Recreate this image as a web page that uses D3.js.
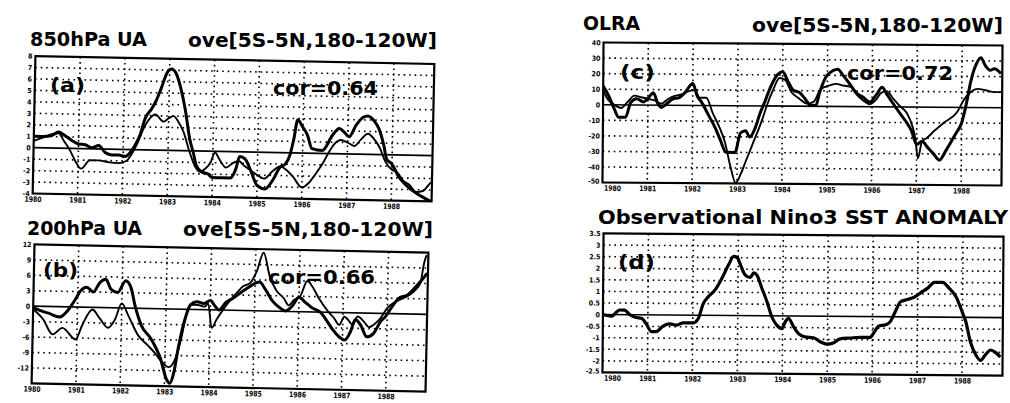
<!DOCTYPE html>
<html><head><meta charset="utf-8">
<script src="https://cdn.jsdelivr.net/npm/d3@7/dist/d3.min.js"></script>
<style>body{margin:0;background:#fff}svg{display:block}</style>
</head><body>
<svg id="c" width="1010" height="403"></svg>
<script>
// ---------- data ----------
const years = [1980,1981,1982,1983,1984,1985,1986,1987,1988];
const yearLabels = ["1980","1981","1982","1983","1984","1985","1986","1987","1988"];
const ticksA = [8,7,6,5,4,3,2,1,0,-1,-2,-3,-4];
const ticksB = [12,9,6,3,0,-3,-6,-9,-12];
const ticksC = [40,30,20,10,0,-10,-20,-30,-40,-50];
const ticksD = [3.5,3,2.5,2,1.5,1,0.5,0,-0.5,-1,-1.5,-2,-2.5];
const tickLabelsD = ["3.5","3","2.5","2","1.5","1","0.5","0","-0.5","-1","-1.5","-2","-2.5"];

// 850hPa UA (a): thick and thin series [year, value]
const a1 = [[1980.0,1.0],[1980.2,1.0],[1980.4,1.1],[1980.55,1.4],[1980.7,1.1],[1980.85,0.7],[1981.0,0.4],[1981.15,0.35],[1981.3,0.1],[1981.45,0.3],[1981.6,-0.3],[1981.75,-0.5],[1981.9,-0.5],[1982.05,-0.6],[1982.15,-0.3],[1982.25,0.3],[1982.37,1.3],[1982.48,2.8],[1982.6,3.5],[1982.7,4.2],[1982.82,5.4],[1982.95,6.8],[1983.04,7.1],[1983.15,6.7],[1983.26,5.4],[1983.37,3.5],[1983.48,1.0],[1983.56,-0.1],[1983.64,-1.3],[1983.75,-1.8],[1983.9,-2.0],[1984.0,-2.3],[1984.2,-2.3],[1984.4,-2.3],[1984.52,-1.5],[1984.6,-0.4],[1984.72,-0.6],[1984.85,-1.6],[1985.0,-2.9],[1985.18,-3.2],[1985.35,-2.4],[1985.5,-1.3],[1985.62,-1.0],[1985.72,-0.2],[1985.8,1.2],[1985.88,2.9],[1985.99,2.3],[1986.1,1.6],[1986.21,0.4],[1986.44,0.25],[1986.66,1.6],[1986.81,2.2],[1986.92,1.9],[1987.03,1.5],[1987.18,2.5],[1987.33,3.2],[1987.44,3.35],[1987.59,2.9],[1987.7,2.2],[1987.81,0.8],[1987.88,-0.4],[1988.0,-0.8],[1988.14,-1.8],[1988.29,-2.5],[1988.44,-3.0],[1988.59,-3.4],[1988.73,-3.7],[1988.88,-4.0]];
const a2 = [[1980.0,0.6],[1980.2,0.9],[1980.4,1.2],[1980.55,1.3],[1980.68,0.6],[1980.81,-0.15],[1980.95,-1.2],[1981.07,-1.75],[1981.26,-1.0],[1981.45,-1.0],[1981.7,-1.15],[1981.9,-1.2],[1982.07,-1.0],[1982.3,0.45],[1982.45,1.9],[1982.59,2.8],[1982.7,3.1],[1982.89,2.5],[1983.0,2.8],[1983.11,3.0],[1983.22,2.5],[1983.33,1.7],[1983.48,-0.1],[1983.6,-1.3],[1983.72,-1.8],[1983.85,-1.5],[1983.95,-1.0],[1984.05,-0.1],[1984.15,-0.7],[1984.3,-1.4],[1984.45,-1.0],[1984.58,-0.8],[1984.7,-1.2],[1984.85,-1.6],[1985.0,-2.0],[1985.15,-2.3],[1985.35,-1.6],[1985.5,-1.2],[1985.65,-1.5],[1985.8,-2.1],[1986.0,-3.0],[1986.15,-2.6],[1986.3,-1.8],[1986.45,-0.9],[1986.6,0.2],[1986.72,0.9],[1986.85,1.2],[1987.0,1.0],[1987.15,0.7],[1987.3,1.3],[1987.45,1.8],[1987.6,1.3],[1987.72,0.6],[1987.85,-0.6],[1988.0,-1.3],[1988.12,-1.5],[1988.25,-2.2],[1988.4,-2.6],[1988.55,-3.2],[1988.7,-3.1],[1988.8,-2.7],[1988.88,-2.3]];

// 200hPa UA (b)
const b1 = [[1980.0,-0.3],[1980.15,-0.8],[1980.35,-1.3],[1980.6,-2.0],[1980.8,-0.5],[1980.95,1.5],[1981.05,3.0],[1981.2,3.9],[1981.35,3.0],[1981.5,4.9],[1981.63,5.5],[1981.75,3.6],[1981.9,3.0],[1982.08,5.3],[1982.2,4.0],[1982.3,0.5],[1982.45,-3.3],[1982.67,-5.8],[1982.9,-9.7],[1983.04,-13.6],[1983.12,-14.4],[1983.2,-12.6],[1983.3,-7.3],[1983.45,-1.4],[1983.55,0.9],[1983.7,1.5],[1983.85,1.2],[1984.0,1.8],[1984.1,0.8],[1984.2,0.0],[1984.35,1.5],[1984.5,2.3],[1984.7,3.6],[1984.85,4.5],[1985.1,5.6],[1985.25,4.0],[1985.4,2.0],[1985.55,0.8],[1985.7,0.1],[1985.85,1.1],[1986.0,2.8],[1986.15,1.8],[1986.3,0.8],[1986.5,-0.1],[1986.65,-1.8],[1986.78,-3.4],[1986.92,-4.7],[1987.05,-5.3],[1987.18,-3.6],[1987.28,-1.3],[1987.4,-2.3],[1987.55,-4.6],[1987.7,-3.9],[1987.85,-1.6],[1987.96,-0.6],[1988.1,1.3],[1988.25,3.0],[1988.45,3.7],[1988.6,5.0],[1988.75,6.5],[1988.88,8.0]];
const b2 = [[1980.0,-0.6],[1980.23,-2.5],[1980.45,-5.4],[1980.67,-4.1],[1980.97,-6.3],[1981.12,-3.4],[1981.34,-0.4],[1981.5,-2.0],[1981.7,-3.9],[1981.85,-2.3],[1982.0,0.9],[1982.15,-1.4],[1982.38,-5.2],[1982.6,-7.1],[1982.78,-8.7],[1982.9,-10.0],[1982.97,-10.6],[1983.08,-11.3],[1983.2,-10.3],[1983.35,-6.0],[1983.46,-1.1],[1983.57,0.9],[1983.72,0.9],[1983.87,0.6],[1983.95,1.2],[1984.04,-3.5],[1984.15,-1.8],[1984.3,0.2],[1984.45,2.0],[1984.6,3.5],[1984.73,4.7],[1984.88,5.3],[1985.03,7.6],[1985.18,11.3],[1985.33,6.7],[1985.48,4.1],[1985.66,2.5],[1985.77,1.2],[1985.88,2.2],[1986.03,3.1],[1986.18,6.0],[1986.29,5.0],[1986.44,2.8],[1986.66,0.2],[1986.8,-1.1],[1986.92,-2.4],[1987.03,-0.8],[1987.1,-1.2],[1987.22,-2.3],[1987.33,-0.7],[1987.48,-1.7],[1987.59,-2.7],[1987.74,-1.9],[1987.85,-0.9],[1988.0,1.1],[1988.22,2.5],[1988.45,3.5],[1988.6,4.5],[1988.73,6.0],[1988.81,10.0],[1988.86,11.5]];

// OLRA (c)
const c1 = [[1980.0,12],[1980.12,6],[1980.25,-2.6],[1980.35,-8],[1980.5,-8],[1980.62,1.7],[1980.75,4],[1980.9,2],[1981.02,5],[1981.12,8],[1981.22,1],[1981.3,-1.5],[1981.42,1],[1981.55,4],[1981.7,5],[1981.82,8],[1982.0,14],[1982.1,6],[1982.2,2],[1982.35,-6],[1982.5,-14],[1982.62,-22],[1982.75,-30],[1982.95,-30],[1983.07,-17.5],[1983.18,-16],[1983.28,-20],[1983.4,-14],[1983.5,-5],[1983.62,3.6],[1983.73,12],[1983.88,20],[1984.0,22],[1984.12,16],[1984.25,10],[1984.37,9],[1984.5,5],[1984.63,0.6],[1984.75,0.6],[1984.82,8],[1984.97,19],[1985.12,23],[1985.23,24],[1985.35,20],[1985.5,14.5],[1985.64,9],[1985.8,6],[1985.95,3],[1986.1,8],[1986.22,12.5],[1986.33,8],[1986.48,1.7],[1986.62,-4],[1986.75,-9],[1986.88,-15],[1987.0,-24],[1987.12,-22],[1987.25,-26],[1987.38,-30],[1987.51,-34],[1987.65,-28],[1987.87,-17],[1988.0,-10],[1988.1,2],[1988.2,17],[1988.32,28],[1988.42,32],[1988.52,27],[1988.63,24],[1988.72,25],[1988.87,22]];
const c2 = [[1980.0,9],[1980.12,3],[1980.25,0],[1980.4,-2],[1980.55,2],[1980.7,6],[1980.85,5],[1981.0,4],[1981.15,3],[1981.3,1],[1981.45,4],[1981.6,6],[1981.75,7],[1981.9,9],[1982.05,10],[1982.15,5],[1982.3,5],[1982.45,-5],[1982.6,-14],[1982.72,-23],[1982.85,-39],[1982.97,-49.5],[1983.08,-44],[1983.2,-35],[1983.35,-24],[1983.46,-16],[1983.55,-9],[1983.65,0],[1983.8,11],[1983.93,18],[1984.05,17],[1984.2,9],[1984.37,5],[1984.55,1.7],[1984.7,3],[1984.85,11],[1985.05,13.5],[1985.2,14.5],[1985.35,13.5],[1985.55,12.4],[1985.65,8],[1985.8,4],[1985.95,1.7],[1986.1,5],[1986.2,9],[1986.32,10],[1986.48,5],[1986.62,0.6],[1986.78,-4],[1986.9,-12],[1986.97,-20],[1987.03,-33],[1987.12,-22],[1987.22,-20],[1987.4,-15],[1987.6,-10],[1987.9,-3],[1988.05,5],[1988.2,10],[1988.35,12],[1988.55,11],[1988.72,10],[1988.87,10]];

// Observational Nino3 SST anomaly (d)
const d1 = [[1980.0,0],[1980.19,-0.07],[1980.37,0.2],[1980.48,0.2],[1980.6,0.0],[1980.74,-0.12],[1980.86,-0.15],[1980.97,-0.4],[1981.08,-0.72],[1981.19,-0.72],[1981.34,-0.48],[1981.49,-0.38],[1981.64,-0.43],[1981.79,-0.33],[1982.01,-0.33],[1982.12,-0.15],[1982.23,0.5],[1982.34,0.8],[1982.49,1.1],[1982.64,1.6],[1982.79,2.2],[1982.9,2.55],[1982.98,2.5],[1983.05,2.2],[1983.16,1.75],[1983.27,1.65],[1983.35,1.85],[1983.42,1.75],[1983.53,1.2],[1983.65,0.6],[1983.76,-0.05],[1983.87,-0.4],[1983.98,-0.55],[1984.06,-0.25],[1984.13,-0.1],[1984.24,-0.45],[1984.35,-0.75],[1984.5,-0.9],[1984.69,-0.93],[1984.84,-1.1],[1984.99,-1.2],[1985.13,-1.15],[1985.28,-0.97],[1985.51,-0.93],[1985.73,-0.9],[1985.95,-0.9],[1986.03,-0.7],[1986.14,-0.4],[1986.29,-0.35],[1986.4,-0.2],[1986.51,0.25],[1986.62,0.65],[1986.77,0.75],[1986.92,0.85],[1987.07,1.05],[1987.22,1.25],[1987.37,1.5],[1987.55,1.5],[1987.7,1.25],[1987.85,0.9],[1988.0,0.2],[1988.07,-0.15],[1988.18,-1.05],[1988.3,-1.6],[1988.41,-1.85],[1988.52,-1.6],[1988.63,-1.4],[1988.74,-1.5],[1988.85,-1.7]];

// ---------- layout ----------
const FONT = "'Liberation Sans Narrow','DejaVu Sans Condensed',sans-serif";
const xDomain = [1980, 1988.9];
const panels = [
  {frame:[34,433,60,197.5], rot:1.15, yDom:[-4,8], ticks:ticksA, tlabels:ticksA.map(String), firstStart:false, series:[[a1,3],[a2,1.9]]},
  {frame:[33,427,248.5,387.5], rot:1.2, yDom:[-15,12], ticks:ticksB, tlabels:ticksB.map(String), firstStart:false, series:[[b1,3],[b2,1.9]]},
  {frame:[603,1002,44,184], rot:0.43, yDom:[-50,40], ticks:ticksC, tlabels:ticksC.map(String), firstStart:true, series:[[c1,3],[c2,1.9]]},
  {frame:[603,1003,235,374], rot:0.45, yDom:[-2.5,3.5], ticks:ticksD, tlabels:tickLabelsD, firstStart:true, series:[[d1,3.2]]}
];
const titles = [
  {t:"850hPa UA", x:30, y:46, w:117},
  {t:"ove[5S-5N,180-120W]", x:188, y:47, w:249},
  {t:"200hPa UA", x:27, y:235, w:115},
  {t:"ove[5S-5N,180-120W]", x:183, y:236, w:250},
  {t:"OLRA", x:583, y:30, w:57},
  {t:"ove[5S-5N,180-120W]", x:752, y:32, w:251},
  {t:"Observational Nino3 SST ANOMALY", x:598, y:224, w:410},
  {t:"(a)", x:50, y:92, w:35},
  {t:"cor=0.64", x:273, y:95, w:105},
  {t:"(b)", x:43, y:277, w:35},
  {t:"cor=0.66", x:268, y:284, w:107},
  {t:"(c)", x:620, y:79, w:35},
  {t:"cor=0.72", x:847, y:80, w:106},
  {t:"(d)", x:618, y:269, w:37}
];

// ---------- drawing ----------
const svg = d3.select("#c");
svg.append("rect").attr("width",1010).attr("height",403).attr("fill","#fff");

panels.forEach((p,i) => {
  const [x0,x1,y0,y1] = p.frame;
  const x = d3.scaleLinear().domain(xDomain).range([x0,x1]);
  const y = d3.scaleLinear().domain(p.yDom).range([y1,y0]);
  const g = svg.append("g").attr("transform",`rotate(${p.rot},${(x0+x1)/2},${(y0+y1)/2})`);
  const clipId = "clip"+i;
  g.append("clipPath").attr("id",clipId).append("rect")
    .attr("x",x0).attr("y",y0).attr("width",x1-x0).attr("height",y1-y0);

  // horizontal dotted grid
  const inner = p.ticks.filter(v => v !== 0 && v > p.yDom[0] && v < p.yDom[1]);
  g.selectAll(null).data(inner).join("line")
    .attr("x1",x0).attr("x2",x1).attr("y1",d=>y(d)).attr("y2",d=>y(d))
    .attr("stroke","#000").attr("stroke-width",1.6).attr("stroke-dasharray","1.6,3.9");
  // vertical dotted grid at years
  g.selectAll(null).data(years.slice(1)).join("line")
    .attr("x1",d=>x(d)).attr("x2",d=>x(d)).attr("y1",y0).attr("y2",y1)
    .attr("stroke","#000").attr("stroke-width",1.6).attr("stroke-dasharray","1.6,3.6");
  // zero line
  g.append("line").attr("x1",x0).attr("x2",x1).attr("y1",y(0)).attr("y2",y(0))
    .attr("stroke","#000").attr("stroke-width",1.6);
  // series
  const line = d3.line().x(d=>x(d[0])).y(d=>y(d[1])).curve(d3.curveMonotoneX);
  p.series.forEach(([data,w]) => {
    g.append("path").attr("d",line(data)).attr("fill","none").attr("stroke","#000")
      .attr("stroke-width",w).attr("stroke-linejoin","round").attr("clip-path",`url(#${clipId})`);
  });
  // frame
  g.append("rect").attr("x",x0).attr("y",y0).attr("width",x1-x0).attr("height",y1-y0)
    .attr("fill","none").attr("stroke","#000").attr("stroke-width",2.2);

  // y axis labels
  const ya = d3.axisLeft(y).tickValues(p.ticks).tickFormat((d,j)=>p.tlabels[j]).tickSize(0).tickPadding(3);
  const yg = g.append("g").attr("transform",`translate(${x0},0)`).call(ya);
  yg.select(".domain").remove();
  yg.selectAll("text").attr("font-family",FONT).attr("font-weight","bold").attr("font-size",7).attr("fill","#000");
  // x axis labels
  const xa = d3.axisBottom(x).tickValues(years).tickFormat((d,j)=>yearLabels[j]).tickSize(0).tickPadding(3);
  const xg = g.append("g").attr("transform",`translate(0,${y1})`).call(xa);
  xg.select(".domain").remove();
  xg.selectAll("text").attr("font-family",FONT).attr("font-weight","bold").attr("font-size",7.5).attr("fill","#000")
    .attr("textLength",17).attr("lengthAdjust","spacingAndGlyphs");
  if (p.firstStart) {
    xg.selectAll(".tick").filter((d,j)=>j===0).select("text").attr("text-anchor","start").attr("dx",1);
    yg.selectAll(".tick").filter((d,j)=>j===p.ticks.length-1).select("text").attr("dy","0.1em");
  }
});

svg.selectAll(null).data(titles).join("text")
  .attr("x",d=>d.x).attr("y",d=>d.y).text(d=>d.t)
  .attr("font-family",FONT).attr("font-weight","bold").attr("font-size",19)
  .attr("textLength",d=>d.w).attr("lengthAdjust","spacingAndGlyphs").attr("fill","#000");
</script>
</body></html>
